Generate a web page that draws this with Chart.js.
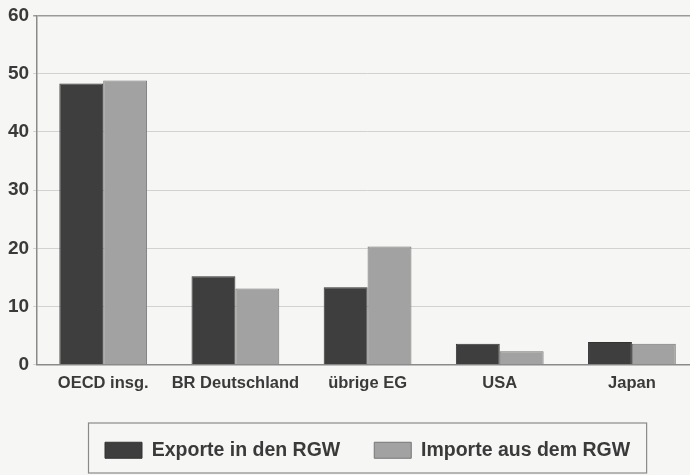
<!DOCTYPE html>
<html>
<head>
<meta charset="utf-8">
<script src="https://cdn.jsdelivr.net/npm/chart.js@4/dist/chart.umd.min.js"></script>
<style>
  html, body { margin: 0; padding: 0; background: #f6f6f4; overflow: hidden; }
  #wrap { width: 690px; height: 475px; overflow: hidden; }
  #box { width: 700px; height: 475px; position: relative; }
</style>
</head>
<body>
<div id="wrap"><div id="box"><canvas id="chart"></canvas></div></div>
<script>
var ctx = document.getElementById('chart').getContext('2d');

var categories = ['OECD insg.', 'BR Deutschland', 'übrige EG', 'USA', 'Japan'];
var exporte = [48.3, 15.2, 13.3, 3.6, 3.9];
var importe = [48.8, 13.1, 20.3, 2.3, 3.6];
var seriesNames = ['Exporte in den RGW', 'Importe aus dem RGW'];

var FONT = "'Liberation Sans', Arial, sans-serif";
var LEGEND_EXTRA = 2;
var LEGEND_SHIFT = 4;

// paper background
var paper = {
    id: 'paper',
    beforeDraw: function (chart) {
        var c = chart.ctx;
        c.save();
        c.fillStyle = '#f6f6f4';
        c.fillRect(0, 0, chart.width, chart.height);
        c.restore();
    }
};

// legend centred on the plot area, a bit lower, with a frame round it
var legendFrame = {
    id: 'legendFrame',
    beforeInit: function (chart) {
        var lg = chart.legend;
        var fit = lg.fit;
        lg.fit = function () {
            fit.call(this);
            this.height += LEGEND_EXTRA;
        };
    },
    afterLayout: function (chart) {
        var lg = chart.legend;
        var a = chart.chartArea;
        lg.left = a.left;
        lg.right = a.right;
        lg.width = a.right - a.left;
        lg.top += LEGEND_SHIFT;
    },
    afterDraw: function (chart) {
        var hb = chart.legend.legendHitBoxes;
        if (!hb.length) return;
        var first = hb[0], last = hb[hb.length - 1];
        var x0 = first.left - 17;
        var x1 = last.left + last.width + 16;
        var y0 = first.top - 18;
        var y1 = Math.min(first.top + first.height + 15, chart.height - 2.5);
        var c = chart.ctx;
        c.save();
        c.strokeStyle = '#8a8a8a';
        c.lineWidth = 1.2;
        c.strokeRect(x0 + 0.5, y0 + 0.5, x1 - x0, y1 - y0);
        c.restore();
    }
};

new Chart(ctx, {
    type: 'bar',
    data: {
        labels: categories,
        datasets: [
            {
                label: seriesNames[0],
                data: exporte,
                backgroundColor: '#3e3e3e',
                borderColor: '#333333',
                borderWidth: 1
            },
            {
                label: seriesNames[1],
                data: importe,
                backgroundColor: '#a2a2a2',
                borderColor: '#767676',
                borderWidth: 1
            }
        ]
    },
    options: {
        responsive: true,
        maintainAspectRatio: false,
        animation: false,
        datasets: {
            bar: {
                categoryPercentage: 0.664,
                barPercentage: 1.0
            }
        },
        layout: {
            padding: { left: 4, right: 2, top: 6, bottom: 7 }
        },
        plugins: {
            tooltip: { enabled: false },
            legend: {
                position: 'bottom',
                labels: {
                    boxWidth: 37,
                    boxHeight: 16,
                    padding: 34,
                    color: '#3a3a3a',
                    font: { family: FONT, size: 19.5, weight: 'bold' }
                }
            }
        },
        scales: {
            x: {
                grid: { display: false, drawTicks: false },
                border: { color: '#8a8a8a', width: 1.5 },
                ticks: {
                    padding: 9,
                    maxRotation: 0,
                    minRotation: 0,
                    autoSkip: false,
                    color: '#3a3a3a',
                    font: { family: FONT, size: 16.5, weight: 'bold' }
                }
            },
            y: {
                min: 0,
                max: 60,
                grid: {
                    color: function (c) {
                        return c.tick && c.tick.value === 60 ? '#9a9a9a' : '#d2d2d2';
                    },
                    lineWidth: function (c) {
                        return c.tick && c.tick.value === 60 ? 1.5 : 1;
                    },
                    tickLength: 4
                },
                border: { color: '#8a8a8a', width: 1.5 },
                ticks: {
                    stepSize: 10,
                    padding: 4,
                    color: '#3a3a3a',
                    font: { family: FONT, size: 19, weight: 'bold' }
                }
            }
        }
    },
    plugins: [paper, legendFrame]
});
</script>
</body>
</html>
